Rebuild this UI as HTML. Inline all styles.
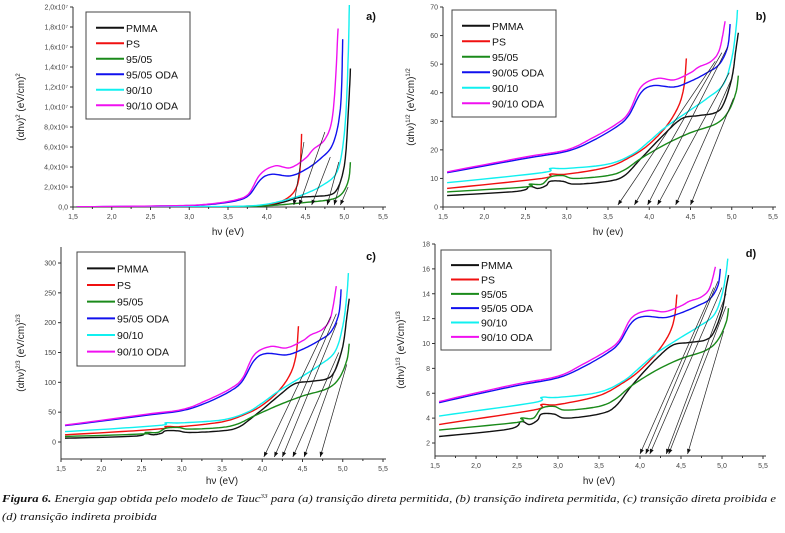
<!DOCTYPE html>
<html><head><meta charset="utf-8">
<style>
body{margin:0;background:#fff;width:785px;height:533px;overflow:hidden}
svg{display:block}
</style></head>
<body>
<svg id="s" width="785" height="533" xmlns="http://www.w3.org/2000/svg" font-family="Liberation Sans, sans-serif"></svg>
<script>
const S=document.getElementById('s');
let out='';
const B={
black:[[1.55,4],[2.4,5.5],[2.55,7.2],[2.65,6.5],[2.75,7.5],[2.8,9],[2.95,9],[3.1,8],[3.5,9],[3.7,11],[3.9,17],[4.2,26],[4.4,31],[4.6,32],[4.8,33],[4.9,36],[5.0,45],[5.05,55],[5.08,61]],
red:[[1.55,6.5],[2.7,10],[2.8,11.5],[3.0,11.5],[3.5,14],[3.8,18],[4.0,22],[4.2,28],[4.35,35],[4.42,42],[4.45,52]],
green:[[1.55,5.3],[2.5,7],[2.55,8],[2.7,8],[2.8,10.5],[2.95,11],[3.1,10],[3.5,11],[3.7,13],[3.9,17],[4.2,22],[4.5,26],[4.8,29],[4.95,33],[5.05,40],[5.08,46]],
blue:[[1.55,12],[2.5,17],[3.0,19.5],[3.3,23],[3.6,28],[3.75,32],[3.9,40],[4.05,42.5],[4.3,42],[4.5,44],[4.7,47],[4.85,50],[4.95,56],[4.98,64]],
cyan:[[1.55,8.5],[2.7,12],[2.8,13.5],[3.0,13.5],[3.5,15],[3.8,18.5],[4.0,23],[4.2,28],[4.5,34],[4.7,38],[4.9,43],[5.0,52],[5.05,62],[5.07,69]],
magenta:[[1.55,12.3],[2.5,17.5],[3.0,20],[3.3,24],[3.6,29],[3.75,33],[3.9,42],[4.1,45],[4.3,44.5],[4.5,47],[4.6,49],[4.75,51],[4.85,55],[4.92,65]]};
const cols={black:'#111',red:'#f01010',green:'#1a8a1a',blue:'#1010ee',cyan:'#10f0f0',magenta:'#f010f0'};
const order=['black','red','green','blue','cyan','magenta'];
function dens(pts){let r=[];const n=pts.length;for(let i=0;i<n-1;i++){const p0=pts[Math.max(0,i-1)],p1=pts[i],p2=pts[i+1],p3=pts[Math.min(n-1,i+2)];
 for(let k=0;k<10;k++){const t=k/10,t2=t*t,t3=t2*t;const f=(a,b,c,d)=>0.5*((2*b)+(-a+c)*t+(2*a-5*b+4*c-d)*t2+(-a+3*b-3*c+d)*t3);
 r.push([f(p0[0],p1[0],p2[0],p3[0]),f(p0[1],p1[1],p2[1],p3[1])]);}}r.push(pts[n-1]);return r;}
function panel(p){
 const X=v=>p.x0+(v-1.5)/4*(p.x1-p.x0);
 const Y=v=>p.yb0+(v-p.v0)/(p.v1-p.v0)*(p.yb1-p.yb0);
 out+=`<line x1="${p.x0}" y1="${p.top}" x2="${p.x0}" y2="${p.bot}" stroke="#333" stroke-width="1"/>`;
 out+=`<line x1="${p.x0}" y1="${p.bot}" x2="${p.x1+3}" y2="${p.bot}" stroke="#333" stroke-width="1"/>`;
 for(let v=1.5;v<=5.51;v+=0.5){let x=X(v);out+=`<line x1="${x}" y1="${p.bot}" x2="${x}" y2="${p.bot+3}" stroke="#333"/><text x="${x}" y="${p.bot+12}" font-size="7" fill="#444" text-anchor="middle">${v.toFixed(1).replace('.',',')}</text>`;
  if(v<5.5){let xm=X(v+0.25);out+=`<line x1="${xm}" y1="${p.bot}" x2="${xm}" y2="${p.bot+2}" stroke="#333"/>`;}}
 p.ticks.forEach(t=>{let y=Y(t[0]);out+=`<line x1="${p.x0-3}" y1="${y}" x2="${p.x0}" y2="${y}" stroke="#333"/><text x="${p.x0-5}" y="${y+2.5}" font-size="7" fill="#444" text-anchor="end">${t[1]}</text>`;});
 out+=`<text x="${(p.x0+p.x1)/2}" y="${p.xl}" font-size="10" fill="#222" text-anchor="middle">${p.xlab}</text>`;
 out+=`<text transform="translate(${p.ylx},${(p.top+p.bot)/2}) rotate(-90)" font-size="10" fill="#222" text-anchor="middle">${p.ylab}</text>`;
 out+=`<text x="${p.x1-12}" y="${p.top+13}" font-size="11" font-weight="bold" fill="#111" text-anchor="middle">${p.tag}</text>`;
 out+=`<clipPath id="c${p.tag[0]}"><rect x="${p.x0}" y="${p.top-2}" width="${p.x1-p.x0}" height="${p.bot-p.top+2}"/></clipPath><g clip-path="url(#c${p.tag[0]})">`;
 order.forEach(c=>{let pts=dens(B[c]).map(q=>X(q[0]).toFixed(1)+','+Y(p.f(Math.max(q[1],0.1))).toFixed(1)).join(' ');out+=`<polyline points="${pts}" fill="none" stroke="${cols[c]}" stroke-width="1.4" stroke-linejoin="round"/>`;});
 p.ar.forEach(a=>{let x1=X(a[0]),y1=Y(a[1]),x2=X(a[2]),y2=p.bot-2;let dx=x2-x1,dy=y2-y1,l=Math.hypot(dx,dy),ux=dx/l,uy=dy/l;
  out+=`<line x1="${x1}" y1="${y1}" x2="${x2}" y2="${y2}" stroke="#222" stroke-width="0.7"/><polygon points="${x2},${y2} ${x2-ux*5-uy*2},${y2-uy*5+ux*2} ${x2-ux*5+uy*2},${y2-uy*5-ux*2}" fill="#111"/>`;});
 out+='</g>';
 const L=p.leg;out+=`<rect x="${L[0]}" y="${L[1]}" width="${L[2]}" height="${L[3]}" fill="#fff" stroke="#444" stroke-width="1"/>`;
 const names=['PMMA','PS','95/05',p.bn,'90/10','90/10 ODA'];const dy=(L[3]-14)/6;
 order.forEach((c,i)=>{let y=L[1]+10+dy*i+dy/2-2;out+=`<line x1="${L[0]+10}" y1="${y}" x2="${L[0]+38}" y2="${y}" stroke="${cols[c]}" stroke-width="2"/><text x="${L[0]+40}" y="${y+4}" font-size="10.5" fill="#111">${names[i]}</text>`;});
}
const sup=s=>`<tspan font-size="6" dy="-4">${s}</tspan><tspan dy="4"> </tspan>`;
const at=[[0,'0,0']];for(let i=1;i<=10;i++){let v=i*2e6;at.push([v,(v>=1e7?(v/1e7).toFixed(1):(v/1e6).toFixed(1)).replace('.',',')+'x10'+(v>=1e7?'⁷':'⁶')]);}
panel({x0:73,x1:383,top:7,bot:207,yb0:207,yb1:7,v0:0,v1:2e7,f:v=>Math.pow(v,4),ticks:at,xlab:'hν (eV)',xl:235,ylx:24,ylab:'(αhν)'+sup('2')+'(eV/cm)'+sup('2'),tag:'a)',leg:[86,12,104,107],bn:'95/05 ODA',
 ar:[[4.48,6.5e6,4.35],[4.75,7.5e6,4.42],[4.82,5e6,4.58],[4.93,4.5e6,4.78],[4.97,3e6,4.87],[5.05,2e6,4.95]]});
const bt=[];for(let v=0;v<=70;v+=10)bt.push([v,v]);
panel({x0:443,x1:773,top:7,bot:207,yb0:207,yb1:7,v0:0,v1:70,f:v=>v,ticks:bt,xlab:'hν (ev)',xl:235,ylx:414,ylab:'(αhν)'+sup('1/2')+'(eV/cm)'+sup('1/2'),tag:'b)',leg:[452,10,104,107],bn:'90/05 ODA',
 ar:[[4.8,51,3.62],[4.88,54,3.82],[4.95,56,3.98],[4.97,47,4.1],[5.0,45,4.32],[5.02,38,4.5]]});
const ct=[];for(let v=0;v<=300;v+=50)ct.push([v,v]);
panel({x0:61,x1:383,top:247,bot:459,yb0:442,yb1:263,v0:0,v1:300,f:v=>Math.pow(v,4/3),ticks:ct,xlab:'hν (eV)',xl:484,ylx:24,ylab:'(αhν)'+sup('2/3')+'(eV/cm)'+sup('2/3'),tag:'c)',leg:[77,252,108,114],bn:'95/05 ODA',
 ar:[[4.85,210,4.02],[4.92,215,4.15],[4.93,200,4.25],[4.95,150,4.38],[4.98,150,4.52],[5.05,130,4.72]]});
const dt=[];for(let v=2;v<=18;v+=2)dt.push([v,v]);
panel({x0:435,x1:763,top:244,bot:456,yb0:443,yb1:244,v0:2,v1:18,f:v=>Math.pow(v,2/3),ticks:dt,xlab:'hν (eV)',xl:484,ylx:404,ylab:'(αhν)'+sup('1/3')+'(eV/cm)'+sup('1/3'),tag:'d)',leg:[441,250,110,100],bn:'95/05 ODA',
 ar:[[4.9,14.5,4.0],[4.95,15,4.07],[5.0,14.5,4.12],[5.05,14,4.32],[5.05,13,4.35],[5.02,11,4.58]]});
out+=`<text x="2" y="502" style="font-family:'Liberation Serif',serif;font-style:italic" font-size="10.5" fill="#111" textLength="774" lengthAdjust="spacingAndGlyphs"><tspan font-weight="bold">Figura 6.</tspan> Energia gap obtida pelo modelo de Tauc<tspan font-size="6" dy="-4">33</tspan><tspan dy="4"> para (a) transição direta permitida, (b) transição indireta permitida, (c) transição direta proibida e</tspan></text>`;
out+=`<text x="2" y="520" style="font-family:'Liberation Serif',serif;font-style:italic" font-size="10.5" fill="#111" textLength="155" lengthAdjust="spacingAndGlyphs">(d) transição indireta proibida</text>`;
S.innerHTML=out;
</script>
</body></html>
